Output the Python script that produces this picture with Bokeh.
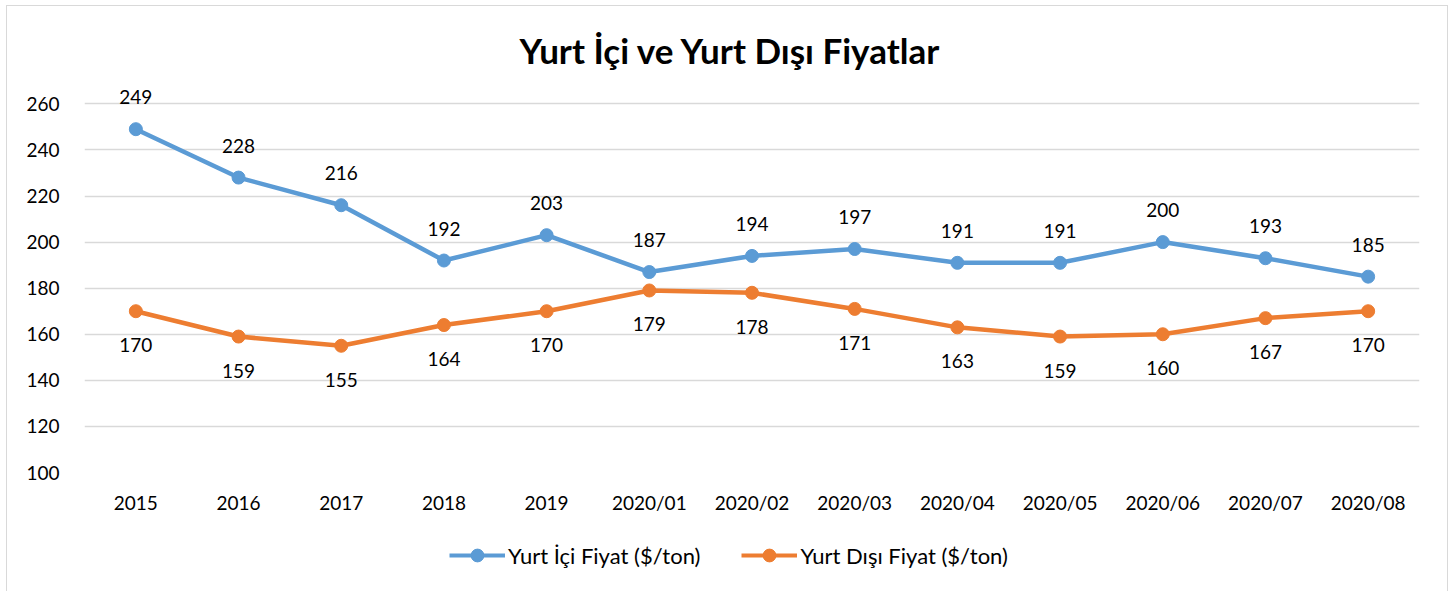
from bokeh.plotting import figure
from bokeh.layouts import column
from bokeh.models import ColumnDataSource, LabelSet, Legend, LegendItem, FactorRange, FixedTicker, Title, Range1d
from bokeh.core.properties import value
from bokeh.embed import file_html
from bokeh.resources import INLINE

categories = ["2015", "2016", "2017", "2018", "2019", "2020/01", "2020/02", "2020/03",
              "2020/04", "2020/05", "2020/06", "2020/07", "2020/08"]
yurt_ici = [249, 228, 216, 192, 203, 187, 194, 197, 191, 191, 200, 193, 185]
yurt_disi = [170, 159, 155, 164, 170, 179, 178, 171, 163, 159, 160, 167, 170]
y_ticks = [100, 120, 140, 160, 180, 200, 220, 240, 260]
series_names = ["Yurt İçi Fiyat ($/ton)", "Yurt Dışı Fiyat ($/ton)"]

BLUE = "#5B9BD5"
ORANGE = "#ED7D31"
FONT = "Lato"

src = ColumnDataSource(dict(x=categories, a=yurt_ici, b=yurt_disi,
                            at=[str(v) for v in yurt_ici], bt=[str(v) for v in yurt_disi]))

xr = FactorRange(*categories, range_padding=0)
p = figure(width=1440, height=525, x_range=xr,
           y_range=(100, 271), output_backend="svg", toolbar_location=None,
           min_border_left=77, min_border_right=28, min_border_top=72, min_border_bottom=59)
p.outline_line_color = None

p.title = Title(text="Yurt İçi ve Yurt Dışı Fiyatlar", align="left", text_font=FONT,
                text_font_style="bold", text_font_size="35px", text_color="#000000",
                standoff=16, offset=435)

p.xgrid.grid_line_color = None
p.ygrid.grid_line_color = "#D9D9D9"
p.ygrid.grid_line_width = 1.5
p.yaxis.ticker = FixedTicker(ticks=y_ticks)
for ax in (p.xaxis[0], p.yaxis[0]):
    ax.axis_line_color = None
    ax.major_tick_line_color = None
    ax.minor_tick_line_color = None
    ax.major_label_text_font = FONT
    ax.major_label_text_font_size = "19px"
    ax.major_label_text_color = "#000000"
p.yaxis.major_label_standoff = 19
p.xaxis.major_label_standoff = 12

p.line("x", "a", source=src, line_color=BLUE, line_width=4.5)
p.scatter("x", "a", source=src, size=13, fill_color=BLUE, line_color=BLUE)
p.line("x", "b", source=src, line_color=ORANGE, line_width=4.5)
p.scatter("x", "b", source=src, size=13, fill_color=ORANGE, line_color=ORANGE)

p.add_layout(LabelSet(x="x", y="a", text="at", source=src, y_offset=32, text_align="center",
                      text_baseline="middle", text_font=value(FONT), text_font_size=value("19px"),
                      text_color="#000000"))
p.add_layout(LabelSet(x="x", y="b", text="bt", source=src, y_offset=-34, text_align="center",
                      text_baseline="middle", text_font=value(FONT), text_font_size=value("19px"),
                      text_color="#000000"))

# legend strip below the chart (series drawn out of its visible y range; only the legend shows)
p2 = figure(width=1440, height=60, x_range=xr, y_range=Range1d(0, 1), output_backend="svg",
            toolbar_location=None, x_axis_type=None, y_axis_type=None,
            min_border_left=0, min_border_right=0, min_border_top=0, min_border_bottom=0)
p2.outline_line_color = None
p2.grid.visible = False
r1 = [p2.line("x", "a", source=src, line_color=BLUE, line_width=4),
      p2.scatter("x", "a", source=src, size=13, fill_color=BLUE, line_color=BLUE)]
r2 = [p2.line("x", "b", source=src, line_color=ORANGE, line_width=4),
      p2.scatter("x", "b", source=src, size=13, fill_color=ORANGE, line_color=ORANGE)]
legend = Legend(items=[LegendItem(label=series_names[0], renderers=r1),
                       LegendItem(label=series_names[1], renderers=r2)],
                orientation="horizontal", location=(365, 20), padding=0, margin=0,
                spacing=41, glyph_width=56, glyph_height=32, label_standoff=3,
                label_text_font=FONT, label_text_font_size="22px", label_text_color="#000000",
                border_line_color=None, background_fill_alpha=0)
p2.add_layout(legend)

layout = column(p, p2, spacing=0)
layout.margin = (5, 0, 0, 6)
layout.styles = {"border": "1px solid #D9D9D9"}

open("out.html", "w").write(file_html(layout, INLINE))
